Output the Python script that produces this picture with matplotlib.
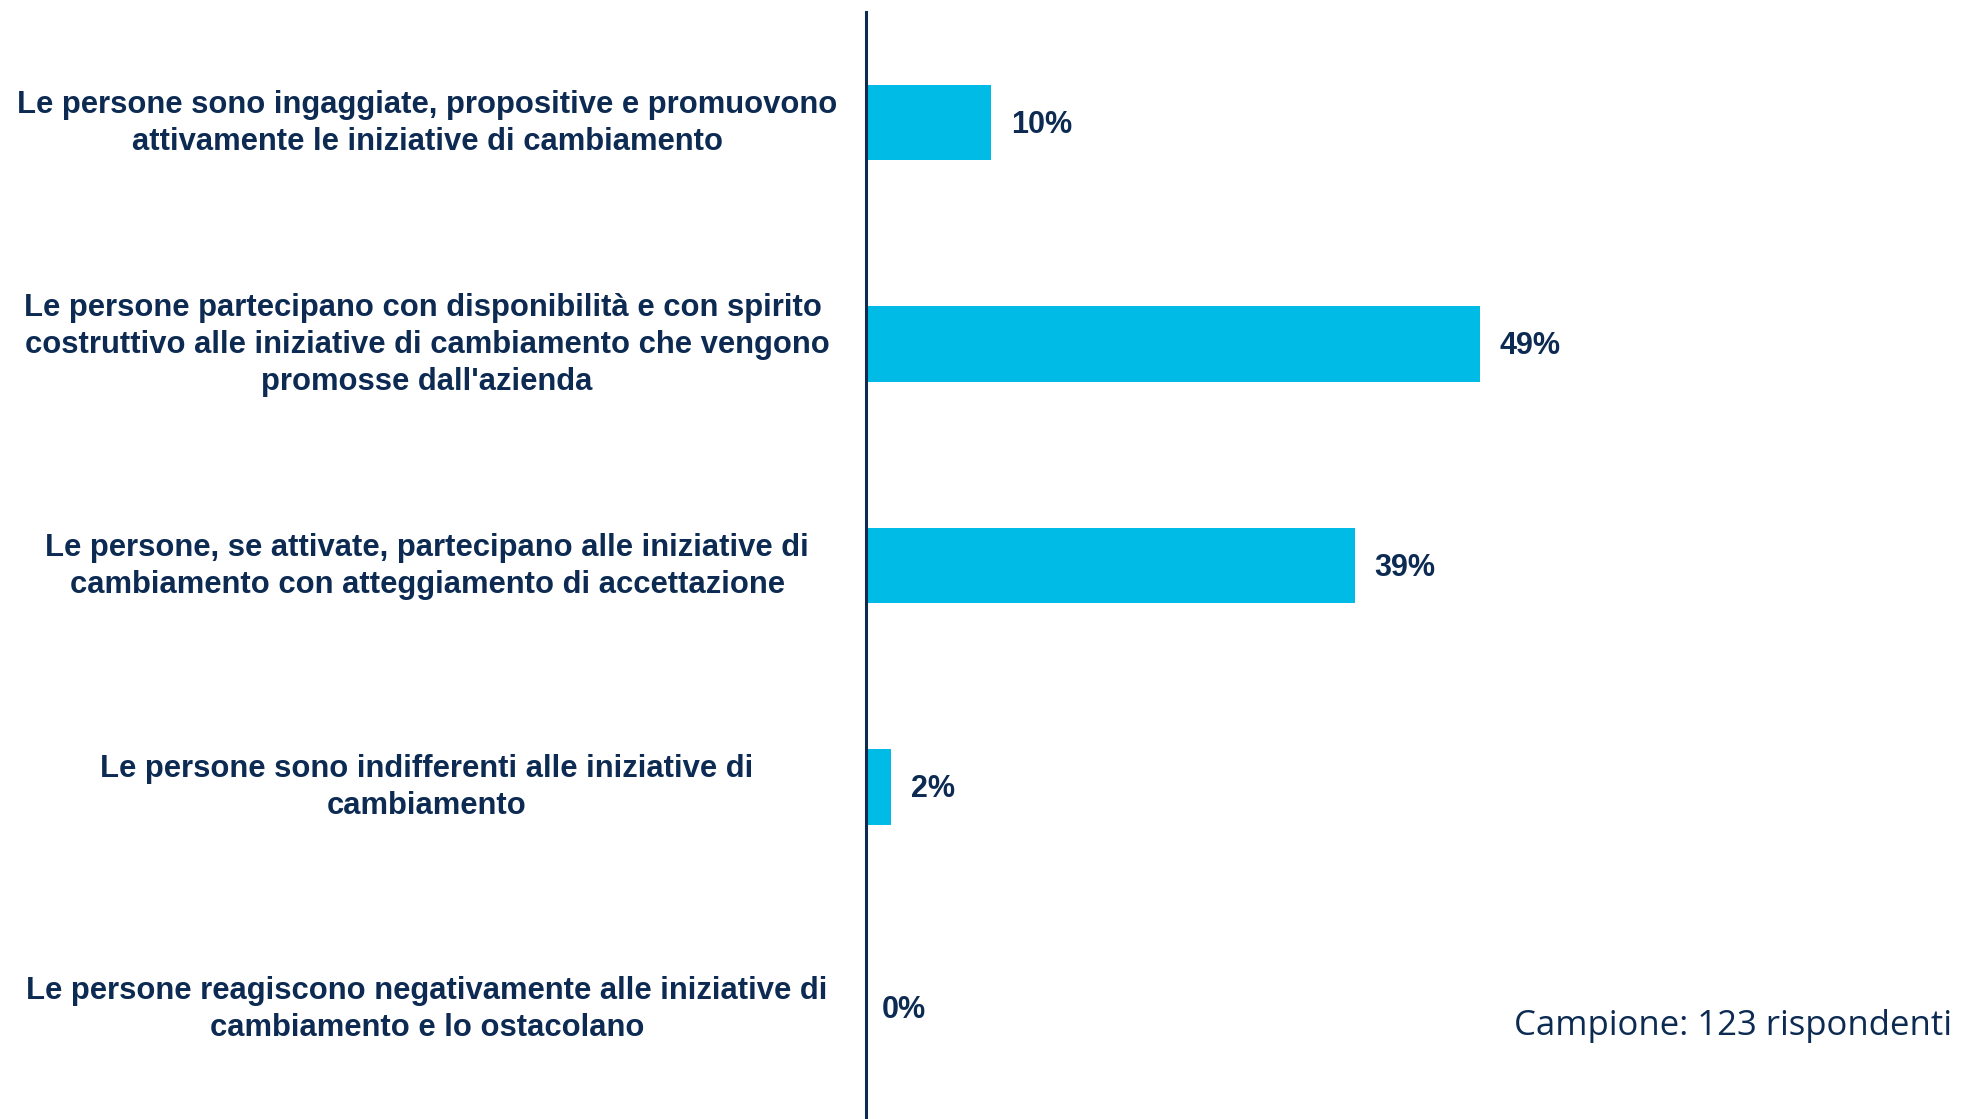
import matplotlib
matplotlib.use("Agg")
import matplotlib.pyplot as plt

categories = [
    "Le persone sono ingaggiate, propositive e promuovono\nattivamente le iniziative di cambiamento",
    "Le persone partecipano con disponibilità e con spirito \ncostruttivo alle iniziative di cambiamento che vengono\npromosse dall'azienda",
    "Le persone, se attivate, partecipano alle iniziative di\ncambiamento con atteggiamento di accettazione",
    "Le persone sono indifferenti alle iniziative di\ncambiamento",
    "Le persone reagiscono negativamente alle iniziative di\ncambiamento e lo ostacolano",
]
values = [10, 49, 39, 2, 0]
value_labels = ["10%", "49%", "39%", "2%", "0%"]
note = "Campione: 123 rispondenti"

bar_color = "#00BBE6"
text_color = "#0D2B52"

fig = plt.figure(figsize=(19.62, 11.19), dpi=100)
ax = fig.add_axes([866 / 1962, 0, 1 - 866 / 1962, 1 - 12 / 1119])

pos = list(range(len(values)))
ax.barh(pos, values, height=0.34, color=bar_color)
ax.set_ylim(len(values) - 0.5, -0.5)
ax.set_xlim(0, 87.5)

# etichette dei valori
for p, v, lab in zip(pos, values, value_labels):
    ax.annotate(lab, (v, p), xytext=(20 if v > 0 else 16, -2), textcoords="offset pixels",
                va="center", ha="left", fontsize=22, fontweight="bold",
                color=text_color, family="Liberation Sans")

# etichette delle categorie, centrate a sinistra dell'asse
for p, cat in zip(pos, categories):
    ax.annotate(cat, (0, p), xycoords=ax.get_yaxis_transform(),
                xytext=(-439, -1), textcoords="offset pixels",
                ha="center", va="center", fontsize=22.3, fontweight="bold",
                color=text_color, family="Liberation Sans", linespacing=1.3)

ax.set_yticks([])
ax.set_xticks([])

for side in ["top", "right", "bottom"]:
    ax.spines[side].set_visible(False)
ax.spines["left"].set_color(text_color)
ax.spines["left"].set_linewidth(2.2)

fig.text(1952 / 1962, 1 - 1026 / 1119, note, ha="right", va="center",
         fontsize=25, color=text_color, family="Open Sans")

fig.savefig("out.png", dpi=100)
